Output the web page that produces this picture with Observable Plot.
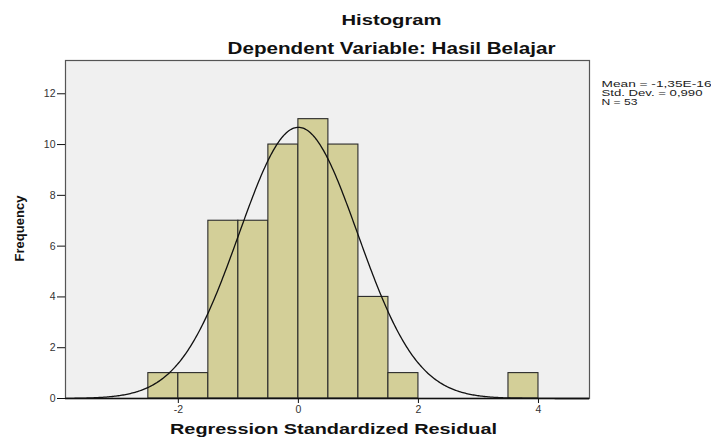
<!DOCTYPE html>
<html><head><meta charset="utf-8">
<script src="https://cdn.jsdelivr.net/npm/d3@7"></script>
<script src="https://cdn.jsdelivr.net/npm/@observablehq/plot@0.6"></script>
<style>body{margin:0;background:#fff;font-family:"Liberation Sans",Arial,sans-serif;}</style>
</head><body><div id="chart"></div>
<script>
const binStart = [-2.5, -2, -1.5, -1, -0.5, 0, 0.5, 1, 1.5, 3.5];
const binEnd   = [-2, -1.5, -1, -0.5, 0, 0.5, 1, 1.5, 2, 4];
const counts   = [1, 1, 7, 7, 10, 11, 10, 4, 1, 1];
const xTicks = [-2, 0, 2, 4];
const yTicks = [0, 2, 4, 6, 8, 10, 12];
const mean = -1.35e-16, sd = 0.990, N = 53, binWidth = 0.5;
const title = "Histogram";
const subtitle = "Dependent Variable: Hasil Belajar";
const xLabel = "Regression Standardized Residual";
const yLabel = "Frequency";
const statsLines = ["Mean = -1,35E-16", "Std. Dev. = 0,990", "N = 53"];

const bins = binStart.map((s, i) => ({x1: s, x2: binEnd[i], y: counts[i]}));
const curve = d3.range(-3.88, 4.86, 0.02).map(x => ({
  x, y: N * binWidth / (sd * Math.sqrt(2 * Math.PI)) * Math.exp(-0.5 * ((x - mean) / sd) ** 2)
}));
const fmt = d => d < 0 ? "-" + Math.abs(d) : String(d);

const chart = Plot.plot({
  width: 711, height: 438,
  marginLeft: 65, marginRight: 122, marginTop: 60, marginBottom: 40,
  style: {fontFamily: "'Liberation Sans', Arial, sans-serif", background: "#fff", overflow: "visible"},
  x: {domain: [-3.88, 4.85], label: null},
  y: {domain: [0, 13.31], label: null},
  marks: [
    Plot.frame({fill: "#f0f0f0", stroke: "none"}),
    Plot.rectY(bins, {x1: "x1", x2: "x2", y: "y", fill: "#d3cf98", stroke: "#2a2a2a", strokeWidth: 1.1}),
    Plot.line(curve, {x: "x", y: "y", stroke: "#111", strokeWidth: 1.3}),
    Plot.frame({stroke: "#555", strokeWidth: 1.2}),
    Plot.ruleY([0], {stroke: "#111", strokeWidth: 1.3}),
    Plot.axisX({ticks: xTicks, tickSize: 5, fontSize: 10.5, fill: "#333", stroke: "#111", tickPadding: 2, tickFormat: fmt}),
    Plot.axisY({ticks: yTicks, tickSize: 8, fontSize: 10.5, fill: "#333", stroke: "#111", tickPadding: 2}),
    Plot.text([title], {frameAnchor: "top", lineAnchor: "middle", textAnchor: "middle", dx: 64, dy: -40, fontSize: 15, fontWeight: "bold", fill: "#111"}),
    Plot.text([subtitle], {frameAnchor: "top", lineAnchor: "middle", textAnchor: "middle", dx: 64, dy: -12, fontSize: 16.5, fontWeight: "bold", fill: "#111"}),
    Plot.text([xLabel], {frameAnchor: "bottom", lineAnchor: "middle", textAnchor: "middle", dx: 6, dy: 30.5, fontSize: 15, fontWeight: "bold", fill: "#111"}),
    Plot.text([yLabel], {frameAnchor: "left", lineAnchor: "middle", textAnchor: "middle", dx: -46, dy: -1, rotate: -90, fontSize: 13, fontWeight: "bold", fill: "#111"}),
    Plot.text([statsLines[0]], {frameAnchor: "top-right", lineAnchor: "middle", textAnchor: "start", dx: 12, dy: 23.5, fontSize: 9, fill: "#222"}),
    Plot.text([statsLines[1]], {frameAnchor: "top-right", lineAnchor: "middle", textAnchor: "start", dx: 12, dy: 32.5, fontSize: 9, fill: "#222"}),
    Plot.text([statsLines[2]], {frameAnchor: "top-right", lineAnchor: "middle", textAnchor: "start", dx: 12, dy: 41.5, fontSize: 9, fill: "#222"})
  ]
});
document.getElementById("chart").appendChild(chart);
// the reference image is horizontally stretched: widen the texts to match
const widths = new Map([[title, 100], [subtitle, 328], [xLabel, 327], [statsLines[0], 110], [statsLines[1], 101], [statsLines[2], 36]]);
chart.querySelectorAll("text").forEach(t => {
  const w = widths.get(t.textContent);
  if (w) { t.setAttribute("textLength", w); t.setAttribute("lengthAdjust", "spacingAndGlyphs"); }
});
</script>
</body></html>
